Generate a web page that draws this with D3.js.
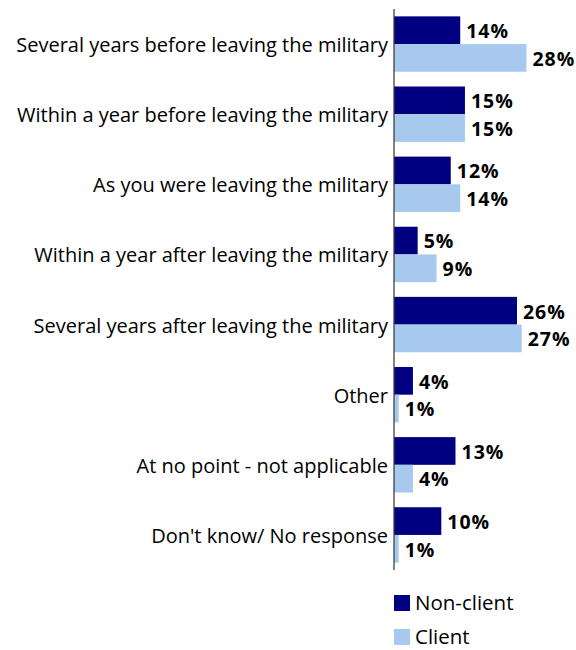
<!DOCTYPE html>
<html>
<head>
<meta charset="utf-8">
<script src="https://cdn.jsdelivr.net/npm/d3@7"></script>
<style>
  html, body { margin: 0; padding: 0; background: #fff; }
  svg { display: block; }
</style>
</head>
<body>
<svg id="chart" width="576" height="650"></svg>
<script>
// Timing of transition support, by client status (%)
const categories = [
  "Several years before leaving the military",
  "Within a year before leaving the military",
  "As you were leaving the military",
  "Within a year after leaving the military",
  "Several years after leaving the military",
  "Other",
  "At no point - not applicable",
  "Don't know/ No response"
];
const nonClient = [14, 15, 12, 5, 26, 4, 13, 10];
const client    = [28, 15, 14, 9, 27, 1, 4, 1];
const seriesNames = ["Non-client", "Client"];
const seriesColors = ["#000080", "#a8c9ee"];

const font = "'Open Sans', sans-serif";
const svg = d3.select("#chart");
const axisX = 394, plotTop = 9, plotBottom = 570;

const y = d3.scaleBand().domain(categories).range([plotTop, plotBottom]).paddingInner(0.21).paddingOuter(0.105);
const sub = d3.scaleBand().domain(seriesNames).range([0, y.bandwidth()]);
const x = d3.scaleLinear().domain([0, 30]).range([axisX, axisX + 30 * 4.73]);

const rows = categories.map((c, i) => ({ cat: c, vals: [nonClient[i], client[i]] }));

const g = svg.selectAll("g.row").data(rows).join("g").attr("class", "row")
  .attr("transform", d => `translate(0,${y(d.cat)})`);

seriesNames.forEach((s, si) => {
  g.append("rect")
    .attr("x", x(0))
    .attr("y", sub(s))
    .attr("width", d => x(d.vals[si]) - x(0))
    .attr("height", sub.bandwidth())
    .attr("fill", seriesColors[si]);
  g.append("text")
    .attr("x", d => x(d.vals[si]) + 6)
    .attr("y", sub(s) + sub.bandwidth() / 2)
    .attr("dy", "0.4em")
    .attr("font-family", font)
    .attr("font-weight", "bold")
    .attr("font-size", 19.5)
    .attr("letter-spacing", 1)
    .attr("fill", "#000")
    .text(d => d.vals[si] + "%");
});

// Category labels
svg.append("g").selectAll("text").data(categories).join("text")
  .attr("x", axisX - 6)
  .attr("y", d => y(d) + y.bandwidth() / 2)
  .attr("dy", "0.4em")
  .attr("text-anchor", "end")
  .attr("font-family", font)
  .attr("font-size", 20)
  .attr("fill", "#000")
  .text(d => d);

// Vertical axis line
svg.append("line")
  .attr("x1", axisX).attr("x2", axisX)
  .attr("y1", plotTop).attr("y2", plotBottom)
  .attr("stroke", "#404040").attr("stroke-width", 1.3);

// Legend
const legend = svg.append("g").attr("transform", "translate(394,595)");
seriesNames.forEach((s, i) => {
  const lg = legend.append("g").attr("transform", `translate(0,${i * 34})`);
  lg.append("rect").attr("width", 16).attr("height", 16).attr("fill", seriesColors[i]);
  lg.append("text")
    .attr("x", 21).attr("y", 8).attr("dy", "0.36em")
    .attr("font-family", font)
    .attr("font-size", 20.5)
    .attr("fill", "#000")
    .text(s);
});
</script>
</body>
</html>
